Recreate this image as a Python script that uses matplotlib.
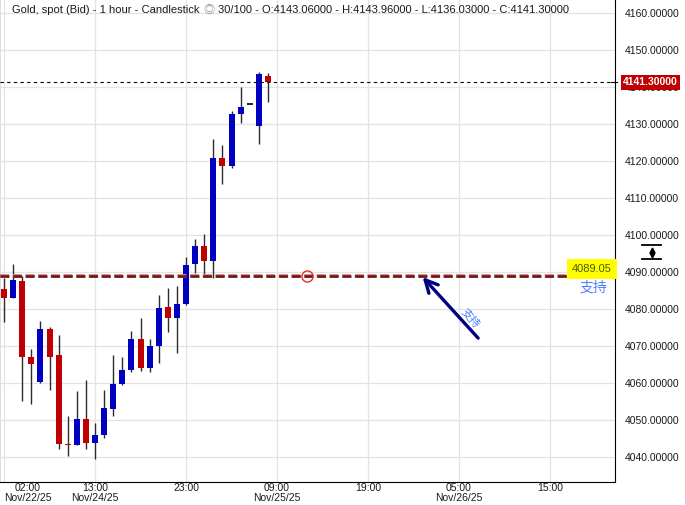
import matplotlib
matplotlib.use("Agg")
import matplotlib.pyplot as plt
import matplotlib.transforms as mtransforms
import matplotlib.patheffects as pe
from matplotlib.lines import Line2D

plt.rcParams['font.family'] = ['Liberation Sans', 'Noto Sans CJK SC', 'DejaVu Sans']

# hourly candles
opens = [4085.6, 4083.1, 4087.6, 4067.1, 4060.2, 4074.7, 4067.6, 4043.7, 4043.4, 4050.4,
         4043.9, 4046.0, 4053.1, 4059.9, 4063.6, 4072.0, 4064.2, 4070.2, 4080.6, 4077.7,
         4081.4, 4092.3, 4097.1, 4093.0, 4120.9, 4118.7, 4132.8, 4135.5, 4129.6, 4143.06]
highs = [4088.5, 4092.2, 4089.1, 4069.3, 4076.8, 4075.1, 4073.1, 4051.2, 4057.9, 4060.9,
         4049.2, 4058.2, 4067.6, 4067.1, 4074.1, 4077.5, 4072.0, 4083.9, 4085.8, 4086.3,
         4094.2, 4099.0, 4100.4, 4126.1, 4124.4, 4133.7, 4140.1, 4135.5, 4144.1, 4143.96]
lows = [4076.6, 4083.0, 4055.3, 4054.5, 4060.0, 4058.3, 4042.3, 4040.3, 4043.4, 4042.1,
        4039.4, 4045.3, 4051.2, 4059.4, 4063.1, 4063.3, 4063.1, 4065.6, 4073.9, 4068.3,
        4081.2, 4089.9, 4088.9, 4088.4, 4113.8, 4118.3, 4130.4, 4135.5, 4124.7, 4136.03]
closes = [4083.1, 4087.9, 4067.2, 4065.3, 4074.7, 4067.2, 4043.7, 4043.4, 4050.4, 4043.9,
          4046.0, 4053.3, 4059.8, 4063.6, 4072.0, 4064.2, 4070.1, 4080.4, 4077.7, 4081.4,
          4092.0, 4097.1, 4093.0, 4120.9, 4118.7, 4132.9, 4134.8, 4135.5, 4143.5, 4141.30]

x_ticks = [0, 10, 20, 30, 40, 50, 60]
x_labels = ["02:00\nNov/22/25", "13:00\nNov/24/25", "23:00", "09:00\nNov/25/25",
            "19:00", "05:00\nNov/26/25", "15:00"]
y_ticks = [4040, 4050, 4060, 4070, 4080, 4090, 4100, 4110, 4120, 4130, 4140, 4150, 4160]

support = 4089.05
support_label = "支持"
marker_x = 33.3
arrow_tail = (52.1, 4072.2)
arrow_head = (46.0, 4088.7)
arrow_text_pos = (51.2, 4077.6)

title_left = "Gold, spot (Bid) - 1 hour - Candlestick"
title_right = "30/100 - O:4143.06000 - H:4143.96000 - L:4136.03000 - C:4141.30000"

UP = "#0000c0"
DOWN = "#c00000"
WICK = "#2b2b2b"

fig = plt.figure(figsize=(6.85, 5.05), dpi=100)
ax = fig.add_axes([0, 23 / 505, 615 / 685, 482 / 505])

idx = list(range(len(opens)))
for i in idx:
    o, h, l, c = opens[i], highs[i], lows[i], closes[i]
    if o == c:
        ax.hlines(c, i - 0.33, i + 0.33, color="black", lw=1.2, zorder=3)
        continue
    col = UP if c > o else DOWN
    ax.vlines(i, l, h, color=WICK, lw=1.0, zorder=2)
    ax.bar(i, abs(c - o), bottom=min(o, c), width=0.66, color=col, zorder=3)

ax.set_xlim(-0.44, 67.14)
ax.set_ylim(4033.3, 4163.6)

# price lines
ax.axhline(closes[-1], color="black", lw=0.8, ls=(0, (3, 3)), zorder=4)
ax.axhline(support, color="#7a1414", lw=1.9, ls=(0, (3.4, 1.4)), zorder=4,
           path_effects=[pe.Stroke(linewidth=2.8, foreground="#c89090"), pe.Normal()])
ax.plot([marker_x], [support], marker="o", ms=8, mfc="none", mec="#e03030", mew=1.0, zorder=5)

# arrow + labels
ax.annotate("", xy=arrow_head, xytext=arrow_tail,
            arrowprops=dict(arrowstyle="->,head_length=0.9,head_width=0.45",
                            color="#000080", lw=2.4, shrinkA=0, shrinkB=0), zorder=6)
ax.text(arrow_text_pos[0], arrow_text_pos[1], support_label, rotation=-48, color="#4f7fff",
        fontsize=8, ha="center", va="center", zorder=6)

trans = mtransforms.blended_transform_factory(ax.transAxes, ax.transData)
ax.text(0.995, support + 1.7, f"{support:.2f}", transform=trans, ha="right", va="center",
        color="#4d5a00", fontsize=8,
        bbox=dict(boxstyle="square,pad=0.45", fc="#ffff00", ec="none"), zorder=7)
ax.text(0.987, support - 3.3, support_label, transform=trans, ha="right", va="center",
        color="#4f7fff", fontsize=10, zorder=7)

# current price tag on the axis
ax.plot([0.994, 1.004], [closes[-1]] * 2, transform=trans, color="black", lw=0.8, clip_on=False)
ax.text(1.013, closes[-1], f"{closes[-1]:.5f}", transform=trans, ha="left", va="center",
        color="white", fontsize=7.5, fontweight="bold", zorder=8, clip_on=False,
        bbox=dict(boxstyle="square,pad=0.2", fc="#c00000", ec="none"))

# axes styling
ax.grid(True, color="#e3e3e3", lw=0.9)
ax.set_axisbelow(True)
ax.yaxis.tick_right()
ax.set_yticks(y_ticks)
ax.set_yticklabels([f"{v:.5f}" for v in y_ticks])
ax.tick_params(axis="y", length=0, pad=7, labelsize=7.5, labelcolor="#1a1a1a")
ax.set_xticks(x_ticks)
ax.set_xticklabels(x_labels)
ax.tick_params(axis="x", length=0, pad=1, labelsize=7.5, labelcolor="#1a1a1a")
for lab in ax.get_xticklabels():
    lab.set_multialignment("center")
    lab.set_linespacing(0.95)
ax.get_xticklabels()[0].set_horizontalalignment("left")

ax.spines["top"].set_visible(False)
ax.spines["left"].set_color("#dddddd")
ax.spines["right"].set_color("black")
ax.spines["bottom"].set_color("black")

# header
fig.text(12 / 685, 1 - 10 / 505, title_left, fontsize=8, color="#1a1a1a", va="center")
fig.text(203 / 685, 1 - 10 / 505, "◎", fontsize=8, color="#888888", va="center")
fig.text(218 / 685, 1 - 10 / 505, title_right, fontsize=8, color="#1a1a1a", va="center")

# scale icon on price axis
for yy in (245, 259):
    fig.add_artist(Line2D([642 / 685, 661 / 685], [1 - yy / 505] * 2, color="black", lw=1.3,
                          transform=fig.transFigure))
fig.add_artist(Line2D([651.5 / 685], [1 - 250 / 505], marker="^", ms=3.5, color="black",
                      ls="none", transform=fig.transFigure))
fig.add_artist(Line2D([651.5 / 685], [1 - 254.5 / 505], marker="v", ms=3.5, color="black",
                      ls="none", transform=fig.transFigure))

fig.savefig("out.png", dpi=100)
